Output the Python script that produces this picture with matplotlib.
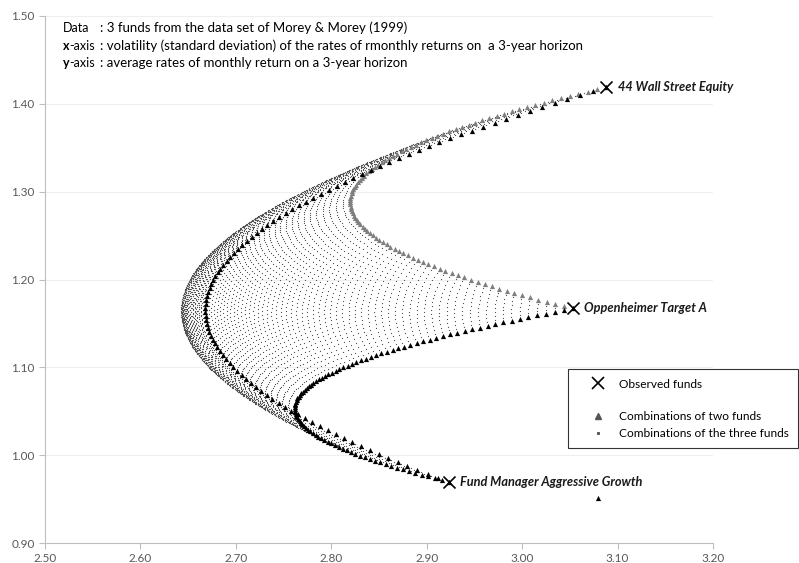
import matplotlib.pyplot as plt
import numpy as np

# observed funds (x = volatility, y = mean monthly return)
fund_names = ["44 Wall Street Equity", "Oppenheimer Target A", "Fund Manager Aggressive Growth"]
fund_sd = np.array([3.088, 3.053, 2.923])
fund_mean = np.array([1.419, 1.167, 0.970])
# correlations estimated from the bends of the two-fund curves
rho_ab = 0.687
rho_ac = 0.583
rho_bc = 0.715
step2 = 0.01   # weight step, two-fund combinations
step3 = 0.01   # weight step, three-fund combinations
stray_x = [3.080]
stray_y = [0.951]

corr = np.array([[1, rho_ab, rho_ac],
                 [rho_ab, 1, rho_bc],
                 [rho_ac, rho_bc, 1]])
cov = corr * np.outer(fund_sd, fund_sd)


def combo(w):
    w = np.atleast_2d(w)
    m = w @ fund_mean
    s = np.sqrt(np.einsum("ij,jk,ik->i", w, cov, w))
    return s, m


t = np.arange(0, 1 + 1e-9, step2)
pairs = {}
for i, j in [(0, 1), (0, 2), (1, 2)]:
    w = np.zeros((len(t), 3))
    w[:, i] = t
    w[:, j] = 1 - t
    pairs[(i, j)] = combo(w)

n = int(round(1 / step3))
w3 = []
for a in range(1, n):
    for b in range(1, n - a):
        w3.append([a / n, b / n, 1 - a / n - b / n])
s3, m3 = combo(np.array(w3))

plt.rcParams["font.family"] = ["Lato", "DejaVu Sans"]
fig = plt.figure(figsize=(7.99, 5.63), dpi=100)
ax = fig.add_axes([45 / 799, 20 / 563, 668 / 799, 527 / 563])

ax.plot(s3, m3, linestyle="none", marker="s", markersize=0.8, mew=0,
        color="#555555", zorder=2)
ax.scatter(*pairs[(0, 1)], s=14, marker="^", color="#7f7f7f", linewidths=0, zorder=3)
ax.scatter(*pairs[(0, 2)], s=14, marker="^", color="black", linewidths=0, zorder=3)
ax.scatter(*pairs[(1, 2)], s=14, marker="^", color="black", linewidths=0, zorder=3)
ax.scatter(stray_x, stray_y, s=14, marker="^", color="black", linewidths=0, zorder=3)
ax.scatter(fund_sd, fund_mean, s=75, marker="x", color="black", linewidths=1.2, zorder=4)

for name, x, y in zip(fund_names, fund_sd, fund_mean):
    ax.text(x + 0.012, y, name, fontsize=9.2, fontweight="bold", style="italic",
            va="center", ha="left", color="#1a1a1a")

ax.set_xlim(2.5, 3.2)
ax.set_ylim(0.9, 1.5)
ax.set_xticks(np.arange(2.5, 3.21, 0.1))
ax.set_yticks(np.arange(0.9, 1.51, 0.1))
ax.xaxis.set_major_formatter(plt.FormatStrFormatter("%.2f"))
ax.yaxis.set_major_formatter(plt.FormatStrFormatter("%.2f"))
ax.grid(axis="y", color="#efefef", linewidth=0.8)
ax.set_axisbelow(True)
for sp in ["top", "right"]:
    ax.spines[sp].set_visible(False)
for sp in ["left", "bottom"]:
    ax.spines[sp].set_color("#bfbfbf")
ax.tick_params(colors="#bfbfbf", labelcolor="#595959", labelsize=8.5, length=4)

# notes in the top left corner
notes = [("Data", ": 3 funds from the data set of Morey & Morey (1999)"),
         ("x-axis", ": volatility (standard deviation) of the rates of rmonthly returns on  a 3-year horizon"),
         ("y-axis", ": average rates of monthly return on a 3-year horizon")]
for k, (lab, txt) in enumerate(notes):
    yy = 1 - (28 + 17.5 * k) / 563
    if lab == "Data":
        fig.text(63 / 799, yy, lab, fontsize=9, va="center")
    else:
        fig.text(63 / 799, yy, lab[0], fontsize=9, va="center", fontweight="bold")
        fig.text(69.5 / 799, yy, lab[1:], fontsize=9, va="center")
    fig.text(100 / 799, yy, txt, fontsize=9.5, va="center")

h_x = plt.Line2D([], [], marker="x", color="black", linestyle="none", markersize=8, mew=1.2)
h_b = plt.Line2D([], [], linestyle="none")
h_t = plt.Line2D([], [], marker="^", color="#555555", linestyle="none", markersize=4)
h_d = plt.Line2D([], [], marker="s", color="#555555", linestyle="none", markersize=1.2)
leg = fig.legend([h_x, h_b, h_t, h_d],
                 ["Observed funds", "", "Combinations of two funds", "Combinations of the three funds"],
                 loc="upper left", bbox_to_anchor=(568 / 799, 1 - 369 / 563),
                 fontsize=8.6, frameon=True, fancybox=False, edgecolor="black",
                 labelspacing=0.45, handletextpad=0.05, borderpad=0.8, handlelength=3.4,
                 borderaxespad=0)
leg.get_frame().set_linewidth(0.8)

fig.savefig("out.png", dpi=100)
